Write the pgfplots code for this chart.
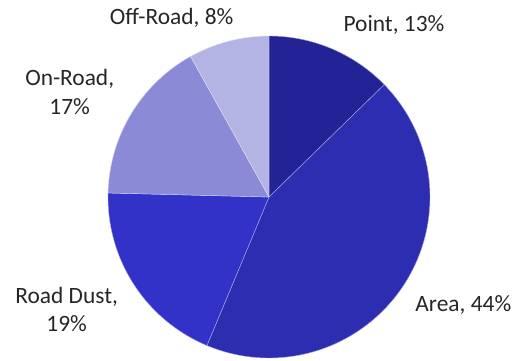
\documentclass[border=0pt]{standalone}
\usepackage{pgfplots}
\pgfplotsset{compat=1.18}
\usepackage{fontspec}
\setmainfont{Carlito}
\definecolor{cPoint}{HTML}{232396}
\definecolor{cArea}{HTML}{2D2DB2}
\definecolor{cDust}{HTML}{3232C8}
\definecolor{cOn}{HTML}{8A8AD6}
\definecolor{cOff}{HTML}{B4B4E4}
% shares (percent), clockwise from 12 o'clock
\def\vPoint{12.7}
\def\vArea{43.6}
\def\vDust{19.1}
\def\vOn{16.5}
\def\vOff{8.1}
\pgfmathsetmacro\aA{90}
\pgfmathsetmacro\aB{\aA-3.6*\vPoint}
\pgfmathsetmacro\aC{\aB-3.6*\vArea}
\pgfmathsetmacro\aD{\aC-3.6*\vDust}
\pgfmathsetmacro\aE{\aD-3.6*\vOn}
\pgfmathsetmacro\aF{\aE-3.6*\vOff}
\def\R{161}
\newcommand\lblfont{\fontsize{23.4bp}{28.7bp}\selectfont}
\tikzset{lbl/.style={font=\lblfont, text=black!85, align=center, inner sep=0pt}}
\begin{document}
\begin{tikzpicture}
\begin{axis}[x=1bp, y=1bp, xmin=-269, xmax=250, ymin=-163, ymax=197,
  hide axis, clip=false, variable=\t]
\path (axis cs:-269,-163) rectangle (axis cs:250,197);
\addplot[fill=cPoint, draw=white!60!cPoint, line width=0.4pt, domain=\aB:\aA, samples=60] ({\R*cos(t)},{\R*sin(t)}) -- (axis cs:0,0) -- cycle;
\addplot[fill=cArea, draw=white!60!cArea, line width=0.4pt, domain=\aC:\aB, samples=120] ({\R*cos(t)},{\R*sin(t)}) -- (axis cs:0,0) -- cycle;
\addplot[fill=cDust, draw=white!60!cDust, line width=0.4pt, domain=\aD:\aC, samples=60] ({\R*cos(t)},{\R*sin(t)}) -- (axis cs:0,0) -- cycle;
\addplot[fill=cOn, draw=white!60!cOn, line width=0.4pt, domain=\aE:\aD, samples=60] ({\R*cos(t)},{\R*sin(t)}) -- (axis cs:0,0) -- cycle;
\addplot[fill=cOff, draw=white!60!cOff, line width=0.4pt, domain=\aF:\aE, samples=40] ({\R*cos(t)},{\R*sin(t)}) -- (axis cs:0,0) -- cycle;
\node[lbl] at (axis cs:-97.3,178.7) {Off-Road, 8\%};
\node[lbl] at (axis cs:125,172) {Point, 13\%};
\node[lbl] at (axis cs:-199.3,105.3) {On-Road,\\17\%};
\node[lbl] at (axis cs:-202.3,-112.5) {Road Dust,\\19\%};
\node[lbl] at (axis cs:194.3,-108) {Area, 44\%};
\end{axis}
\end{tikzpicture}
\end{document}
